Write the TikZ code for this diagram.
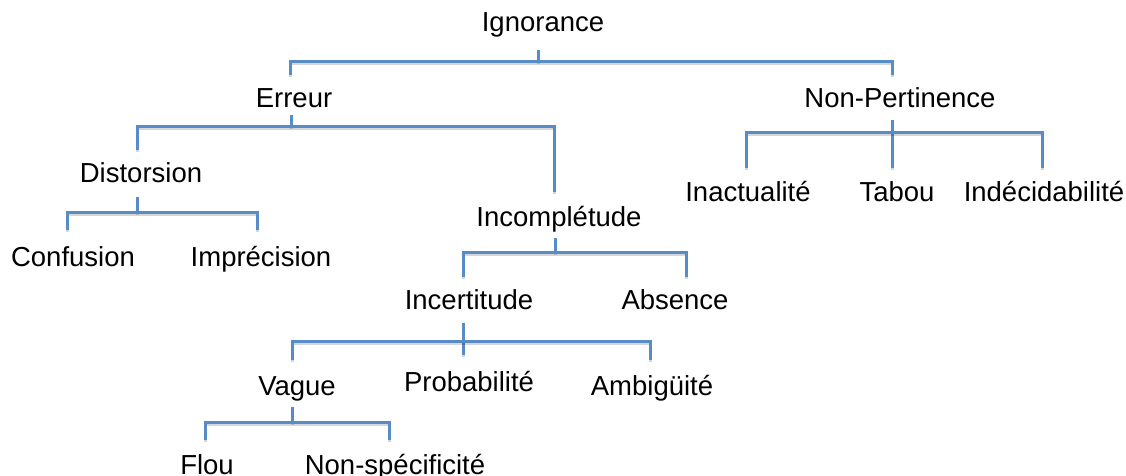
\documentclass[tikz,border=0pt]{standalone}
\usepackage{fontspec}
\setmainfont{Liberation Sans}
\usetikzlibrary{calc}
\definecolor{brc}{RGB}{88,140,199}
\begin{document}
\begin{tikzpicture}[x=1pt,y=1pt,
  lbl/.style={anchor=base, inner sep=0pt, font=\fontsize{27.5}{33}\selectfont},
  br/.style={draw=brc, line width=3pt, line cap=butt, line join=miter,
    preaction={draw=black, draw opacity=0.16, line width=3.4pt,
      transform canvas={shift={(0.6pt,-1.6pt)}}}}]
\useasboundingbox (0,0) rectangle (1126,476);
% nodes
\node[lbl] (ign)    at (543,444) {Ignorance};
\node[lbl] (err)    at (294,368) {Erreur};
\node[lbl] (np)     at (900,368) {Non-Pertinence};
\node[lbl] (dis)    at (141,293) {Distorsion};
\node[lbl] (inc)    at (559,249) {Incomplétude};
\node[lbl] (inact)  at (748,274) {Inactualité};
\node[lbl] (tab)    at (897,274) {Tabou};
\node[lbl] (indec)  at (1044,274) {Indécidabilité};
\node[lbl] (conf)   at (73,209) {Confusion};
\node[lbl] (impr)   at (261,209) {Imprécision};
\node[lbl] (incert) at (469,166) {Incertitude};
\node[lbl] (abs)    at (675,166) {Absence};
\node[lbl] (vag)    at (297,80) {Vague};
\node[lbl] (prob)   at (469,84) {Probabilité};
\node[lbl] (amb)    at (652,80) {Ambigüité};
\node[lbl] (flou)   at (207,1) {Flou};
\node[lbl] (nsp)    at (395,1) {Non-spécificité};
% Ignorance
\coordinate (h1) at ($(ign.base)+(-5,-30)$);
\draw[br] ($(ign.base)+(-5,-18)$) -- (h1);
\draw[br] ($(err.base)+(-4,33)$) coordinate (e1) -- (e1 |- h1) -| ($(np.base)+(-8,33)$);
% Erreur
\coordinate (h2) at ($(err.base)+(-3,-19)$);
\draw[br] ($(err.base)+(-3,-7)$) -- (h2);
\draw[br] ($(dis.base)+(-4,33)$) coordinate (e2) -- (e2 |- h2) -| ($(inc.base)+(-5,35)$);
% Non-Pertinence
\coordinate (h3) at ($(np.base)+(-8,-25)$);
\draw[br] ($(np.base)+(-8,-12)$) coordinate (s3) -- (s3 |- {$(tab.base)+(-5,34)$});
\draw[br] ($(inact.base)+(-2,34)$) coordinate (e3) -- (e3 |- h3) -| ($(indec.base)+(-2,34)$);
% Distorsion
\coordinate (h4) at ($(dis.base)+(-4,-30)$);
\draw[br] ($(dis.base)+(-4,-14)$) -- (h4);
\draw[br] ($(conf.base)+(-6,37)$) coordinate (e4) -- (e4 |- h4) -| ($(impr.base)+(-4,37)$);
% Incompletude
\coordinate (h5) at ($(inc.base)+(-4,-26)$);
\draw[br] ($(inc.base)+(-4,-11)$) -- (h5);
\draw[br] ($(incert.base)+(-6,33)$) coordinate (e5) -- (e5 |- h5) -| ($(abs.base)+(11,33)$);
% Incertitude
\coordinate (h6) at ($(incert.base)+(-6,-32)$);
\draw[br] ($(incert.base)+(-6,-13)$) coordinate (s6) -- (s6 |- {$(prob.base)+(-4,37)$});
\draw[br] ($(vag.base)+(-5,36)$) coordinate (e6) -- (e6 |- h6) -| ($(amb.base)+(-2,36)$);
% Vague
\coordinate (h7) at ($(vag.base)+(-5,-27)$);
\draw[br] ($(vag.base)+(-5,-11)$) -- (h7);
\draw[br] ($(flou.base)+(-2,35)$) coordinate (e7) -- (e7 |- h7) -| ($(nsp.base)+(-6,35)$);
\end{tikzpicture}
\end{document}
